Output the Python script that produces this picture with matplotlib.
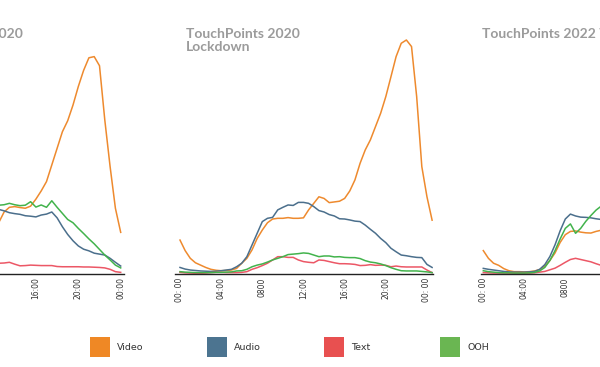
import numpy as np
import matplotlib
matplotlib.use("Agg")
import matplotlib.pyplot as plt
from matplotlib.patches import Rectangle

# series order and colours
series = ["Video", "Audio", "Text", "OOH"]
line_colors = {"Video": "#EE8A2E", "Audio": "#4B6F8C", "Text": "#EC5766", "OOH": "#42B34C"}
legend_colors = {"Video": "#EF8825", "Audio": "#4C7490", "Text": "#E85050", "OOH": "#6AB652"}

# left panel: TouchPoints 2020 (only the afternoon / evening is visible)
hours_left = np.arange(12.5, 24.01, 0.5)
video_left = [22.0, 26.5, 28.5, 28.8, 28.4, 28.1, 29.0, 32.0, 35.5, 39.5, 46.6, 53.7,
              60.8, 65.5, 72.2, 80.1, 87.0, 92.4, 92.9, 89.0, 65.8, 45.9, 28.1, 17.8]
audio_left = [27.6, 27.0, 26.2, 25.8, 25.5, 24.9, 24.7, 24.4, 25.2, 25.6, 26.5, 24.0,
              20.2, 16.9, 14.2, 12.0, 10.6, 9.9, 8.9, 8.5, 8.1, 6.7, 5.0, 3.4]
text_left = [4.6, 4.7, 5.0, 4.2, 3.5, 3.6, 3.8, 3.7, 3.6, 3.6, 3.6, 3.2,
             3.1, 3.1, 3.1, 3.1, 3.0, 3.0, 2.9, 2.8, 2.6, 2.0, 1.0, 0.7]
ooh_left = [29.4, 29.6, 30.2, 29.6, 29.2, 29.4, 30.9, 28.6, 29.5, 28.5, 31.3, 28.5,
            25.9, 23.3, 21.9, 19.5, 17.3, 15.0, 12.9, 10.5, 8.1, 6.0, 3.8, 2.6]

# middle panel: TouchPoints 2020 Lockdown
hours_mid = np.arange(0, 24.51, 0.5)
video_mid = [14.5, 10.0, 6.7, 4.8, 3.8, 2.8, 2.0, 1.6, 1.4, 1.5,
             1.7, 2.4, 4.6, 6.7, 10.3, 15.2, 18.8, 21.9, 23.5, 23.8,
             23.8, 24.1, 23.8, 23.8, 24.0, 27.4, 30.2, 33.0, 32.3, 30.5,
             30.8, 31.1, 32.3, 35.5, 40.2, 47.3, 53.0, 57.3, 63.0, 68.7,
             75.8, 84.3, 92.9, 98.6, 100.0, 97.2, 75.8, 45.9, 33.0, 23.0]
audio_mid = [2.8, 2.1, 1.7, 1.5, 1.3, 1.2, 1.1, 1.2, 1.4, 1.7,
             2.0, 3.1, 4.6, 7.4, 12.4, 17.4, 22.4, 23.8, 24.2, 27.4,
             28.5, 29.5, 29.3, 30.6, 30.6, 30.2, 28.8, 27.1, 26.5, 25.4,
             24.8, 23.6, 23.5, 23.1, 22.6, 22.4, 20.9, 19.1, 17.4, 15.2,
             13.4, 11.0, 9.5, 8.1, 7.8, 7.4, 7.1, 7.0, 4.1, 2.8]
text_mid = [0.7, 0.5, 0.4, 0.3, 0.3, 0.4, 0.6, 0.7, 0.7, 0.6,
            0.6, 0.6, 0.7, 1.0, 2.0, 2.7, 3.6, 4.6, 6.0, 7.4,
            7.4, 7.1, 7.1, 6.0, 5.3, 5.0, 4.8, 6.0, 5.8, 5.3,
            4.8, 4.4, 4.4, 4.3, 4.1, 3.6, 3.7, 4.0, 3.7, 3.8,
            3.7, 3.1, 3.4, 3.1, 3.0, 3.0, 3.0, 3.0, 1.7, 0.6]
ooh_mid = [1.0, 0.8, 0.7, 0.6, 0.6, 0.6, 0.6, 0.7, 0.7, 0.8,
           0.9, 1.3, 1.4, 2.0, 3.1, 3.8, 4.3, 5.1, 6.0, 6.7,
           7.4, 8.3, 8.5, 8.7, 9.0, 8.8, 8.1, 7.4, 7.7, 7.7,
           7.3, 7.4, 7.1, 7.0, 7.0, 6.6, 5.7, 5.1, 4.8, 4.3,
           3.6, 2.7, 2.0, 1.4, 1.3, 1.3, 1.3, 1.1, 0.9, 0.6]

# right panel: TouchPoints 2022 (only the morning is visible)
hours_right = np.arange(0, 12.01, 0.5)
video_right = [10.0, 6.7, 4.6, 3.7, 2.3, 1.4, 1.0, 1.0, 0.9, 1.0, 1.3, 1.9, 3.4,
               5.8, 9.0, 13.5, 16.8, 18.2, 18.4, 17.9, 17.6, 17.5, 18.2, 18.7, 19.2]
audio_right = [2.4, 2.0, 1.7, 1.4, 1.1, 0.9, 0.8, 0.8, 0.8, 0.9, 1.1, 2.0, 4.0,
               7.5, 12.5, 18.5, 23.5, 25.6, 24.8, 24.3, 24.2, 24.0, 23.6, 23.3, 23.0]
text_right = [0.6, 0.5, 0.4, 0.4, 0.4, 0.4, 0.4, 0.4, 0.4, 0.4, 0.5, 0.8, 1.1,
              1.8, 2.5, 3.7, 5.0, 6.2, 6.7, 6.2, 5.7, 5.2, 4.4, 3.7, 3.2]
ooh_right = [1.4, 1.0, 0.8, 0.6, 0.5, 0.5, 0.4, 0.4, 0.4, 0.5, 0.7, 1.3, 2.8,
             5.8, 10.0, 15.0, 19.5, 21.4, 17.4, 19.5, 22.5, 25.0, 27.3, 29.0, 30.5]

# only the tick labels that fall inside the picture
ticks_left_hours = [16, 20, 24]
ticks_left = ["16:00", "20:00", "00:00"]
ticks_mid_hours = [0, 4, 8, 12, 16, 20, 24]
ticks_mid = ["00: 00", "04:00", "0800", "12:00", "16:00", "20:00", "00: 00"]
ticks_right_hours = [0, 4, 8]
ticks_right = ["00: 00", "04:00", "0800"]

W, H = 600, 367
fig = plt.figure(figsize=(6, 3.67), dpi=100)

# panel geometry in pixels: x of 00:00, px per hour, xlim
panels = [
    dict(x0=120.7 - 24 * 10.6, pph=10.6, xlim=(-0.5, 24.3), hours=hours_left,
         data=[video_left, audio_left, text_left, ooh_left],
         tick_pos=ticks_left_hours, ticks=ticks_left),
    dict(x0=180.0, pph=10.29, xlim=(-0.5, 24.6), hours=hours_mid,
         data=[video_mid, audio_mid, text_mid, ooh_mid],
         tick_pos=ticks_mid_hours, ticks=ticks_mid),
    dict(x0=483.3, pph=10.25, xlim=(-0.2, 25.0), hours=hours_right,
         data=[video_right, audio_right, text_right, ooh_right],
         tick_pos=ticks_right_hours, ticks=ticks_right),
]

base_px = 274.0
ppv = 2.34
ylim = (0, 105)

for p in panels:
    left_px = p["x0"] + p["xlim"][0] * p["pph"]
    width_px = (p["xlim"][1] - p["xlim"][0]) * p["pph"]
    top_px = base_px - ylim[1] * ppv
    ax = fig.add_axes([left_px / W, (H - base_px) / H, width_px / W, (base_px - top_px) / H])
    for name, vals in zip(series, p["data"]):
        ax.plot(p["hours"], vals, color=line_colors[name], lw=1.1)
    ax.set_xlim(*p["xlim"])
    ax.set_ylim(*ylim)
    ax.set_xticks(p["tick_pos"])
    ax.set_xticklabels(p["ticks"], rotation=90, fontsize=5.5, color="#333333")
    ax.tick_params(axis="x", length=0, pad=2.5)
    ax.set_yticks([])
    for s in ["top", "right", "left"]:
        ax.spines[s].set_visible(False)
    ax.spines["bottom"].set_color("#222222")
    ax.spines["bottom"].set_linewidth(1.0)
    ax.patch.set_alpha(0)

# titles (the outer two are cut by the picture edge, as in the reference)
title_kw = dict(fontsize=10, fontweight="bold", color="#9B9B9B", family=["Lato", "DejaVu Sans"],
                va="baseline", ha="left")
fig.text(-91 / W, (H - 38) / H, "TouchPoints 2020", **title_kw)
fig.text(186 / W, (H - 38) / H, "TouchPoints 2020", **title_kw)
fig.text(186 / W, (H - 51) / H, "Lockdown", **title_kw)
fig.text(482 / W, (H - 38) / H, "TouchPoints 2022 Winter", **title_kw)

# legend
legend_x = [90, 207, 324, 440]
for name, lx in zip(series, legend_x):
    fig.add_artist(Rectangle((lx / W, (H - 357) / H), 20 / W, 20 / H,
                             transform=fig.transFigure, color=legend_colors[name], lw=0))
    fig.text((lx + 27) / W, (H - 347) / H, name, fontsize=6.8, color="#333333",
             va="center", ha="left")

fig.savefig("out.png", dpi=100)
